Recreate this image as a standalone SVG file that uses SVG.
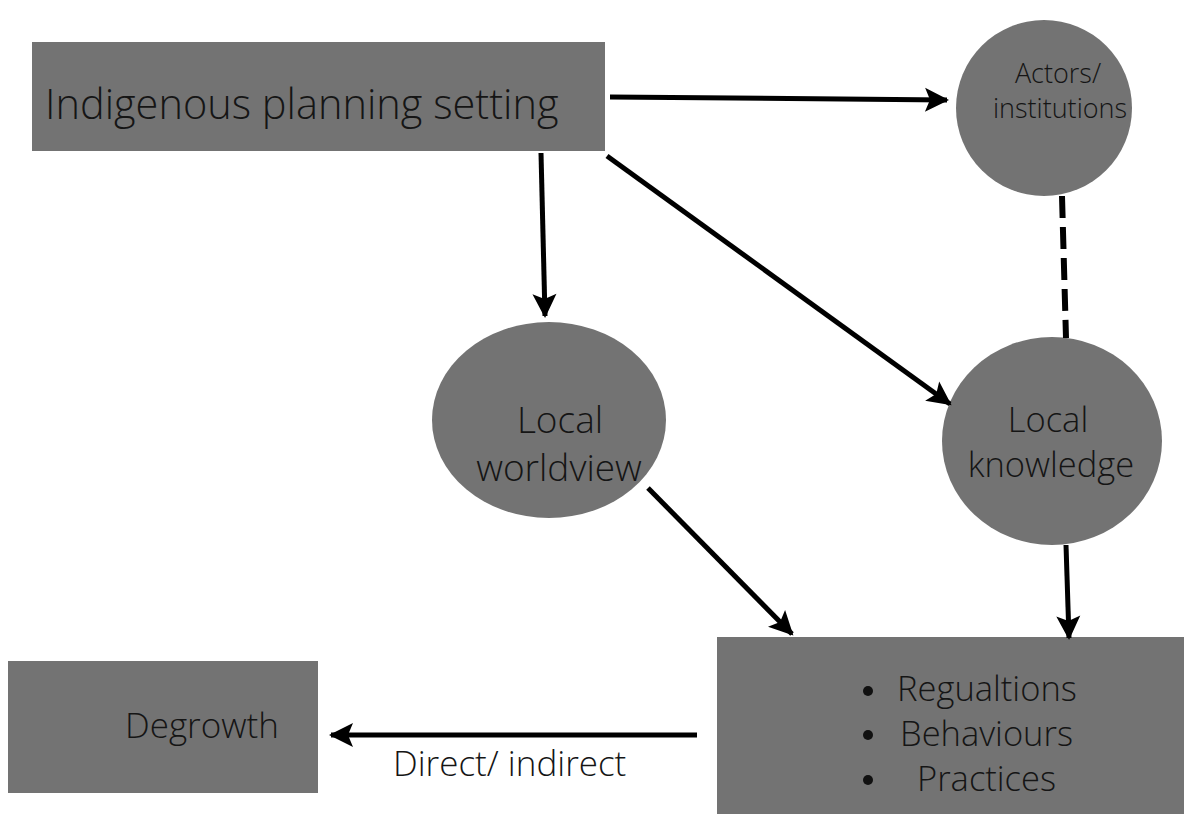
<svg xmlns="http://www.w3.org/2000/svg" width="1184" height="814" viewBox="0 0 1184 814">
<style>
.box{fill:#737373}
.t{font-family:"Open Sans","Liberation Sans",sans-serif;font-weight:300;fill:#151515}
.c{stroke:#000;stroke-width:5;fill:none}
</style>
<defs>
<marker id="ah" markerUnits="userSpaceOnUse" markerWidth="28" markerHeight="28" viewBox="0 0 28 28" refX="24" refY="14" orient="auto">
<path d="M2,2 L26,14 L2,26 L7,14 Z" fill="#000"/>
</marker>
</defs>
<rect width="1184" height="814" fill="#fff"/>
<g id="node-setting">
<rect class="box" x="32" y="42" width="573" height="109"/>
<text class="t" x="45" y="119" font-size="41.5" font-weight="400">Indigenous planning setting</text>
</g>
<g id="node-actors">
<circle class="box" cx="1044" cy="108" r="88"/>
<text class="t" x="1058" y="83" font-size="27" text-anchor="middle">Actors/</text>
<text class="t" x="1060" y="118" font-size="27" text-anchor="middle">institutions</text>
</g>
<g id="node-worldview">
<ellipse class="box" cx="549" cy="420" rx="117" ry="98"/>
<text class="t" x="560" y="433" font-size="37" text-anchor="middle">Local</text>
<text class="t" x="559" y="481" font-size="37" text-anchor="middle">worldview</text>
</g>
<g id="node-knowledge">
<ellipse class="box" cx="1052" cy="441" rx="110" ry="104"/>
<text class="t" x="1048" y="432" font-size="34.5" text-anchor="middle">Local</text>
<text class="t" x="1051" y="477" font-size="34.5" text-anchor="middle">knowledge</text>
</g>
<g id="node-outcomes">
<rect class="box" x="717" y="637" width="467" height="177"/>
<circle cx="868" cy="691" r="5" fill="#111"/>
<circle cx="868" cy="735" r="5" fill="#111"/>
<circle cx="868" cy="780" r="5" fill="#111"/>
<text class="t" x="897" y="701" font-size="34.5">Regualtions</text>
<text class="t" x="900" y="746" font-size="34.5">Behaviours</text>
<text class="t" x="917" y="791" font-size="34.5">Practices</text>
</g>
<g id="node-degrowth">
<rect class="box" x="8" y="661" width="310" height="132"/>
<text class="t" x="125" y="738" font-size="35">Degrowth</text>
</g>
<g id="connectors">
<line class="c" x1="610" y1="97" x2="947" y2="100" marker-end="url(#ah)"/>
<line class="c" x1="541" y1="153" x2="545" y2="316" marker-end="url(#ah)"/>
<line class="c" x1="607" y1="156" x2="950" y2="404" marker-end="url(#ah)"/>
<line class="c" x1="648" y1="488" x2="792" y2="634" marker-end="url(#ah)"/>
<line class="c" x1="1066" y1="545" x2="1069" y2="638" marker-end="url(#ah)"/>
<line class="c" x1="697" y1="735" x2="331" y2="735" marker-end="url(#ah)"/>
<line x1="1062" y1="196" x2="1066" y2="338" stroke="#000" stroke-width="6" stroke-dasharray="22,9"/>
<text class="t" x="393" y="776" font-size="35">Direct/ indirect</text>
</g>
</svg>
